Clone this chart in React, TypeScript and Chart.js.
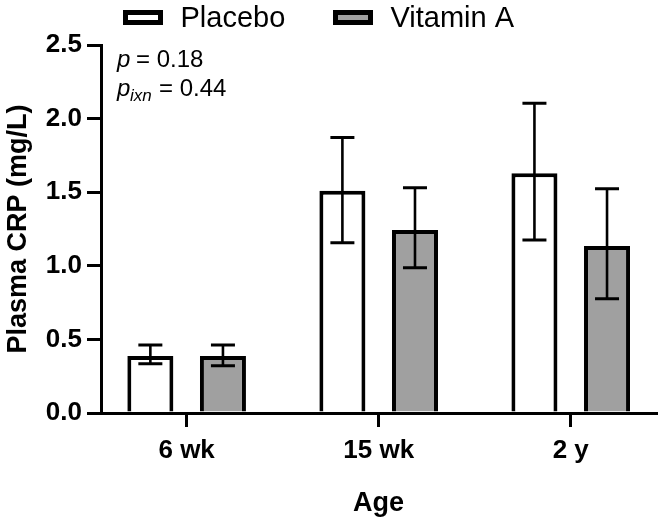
import React, { useEffect, useRef } from "react";
import { Chart, registerables } from "chart.js";

Chart.register(...registerables);

const categories = ["6 wk", "15 wk", "2 y"];
const placeboMean = [0.387, 1.51, 1.628];
const placeboUpper = [0.462, 1.872, 2.104];
const placeboLower = [0.335, 1.157, 1.175];
const vitaminAMean = [0.387, 1.243, 1.134];
const vitaminAUpper = [0.462, 1.53, 1.524];
const vitaminALower = [0.321, 0.987, 0.776];
const yTicks = [0, 0.5, 1.0, 1.5, 2.0, 2.5];
const seriesLabels = ["Placebo", "Vitamin A"];
const pMain = "0.18";
const pIxn = "0.44";

const FONT = '"Liberation Sans", Arial, Helvetica, sans-serif';

const errorBarPlugin = {
  id: "errorBars",
  afterDatasetsDraw(chart: any) {
    const ctx = chart.ctx;
    const yScale = chart.scales.y;
    ctx.save();
    ctx.strokeStyle = "#000";
    chart.data.datasets.forEach((ds: any, di: number) => {
      const meta = chart.getDatasetMeta(di);
      meta.data.forEach((bar: any, i: number) => {
        const x = bar.x;
        const yU = yScale.getPixelForValue(ds.errUpper[i]);
        const yL = yScale.getPixelForValue(ds.errLower[i]);
        ctx.lineWidth = 2.6;
        ctx.beginPath();
        ctx.moveTo(x, yU);
        ctx.lineTo(x, yL);
        ctx.stroke();
        ctx.lineWidth = 3;
        ctx.beginPath();
        ctx.moveTo(x - 12, yU);
        ctx.lineTo(x + 12, yU);
        ctx.moveTo(x - 12, yL);
        ctx.lineTo(x + 12, yL);
        ctx.stroke();
      });
    });
    ctx.restore();
  },
};

const legendPlugin = {
  id: "customLegend",
  afterDraw(chart: any) {
    const ctx = chart.ctx;
    const itemX = [125.5, 335.5];
    ctx.save();
    ctx.font = `29px ${FONT}`;
    ctx.textBaseline = "alphabetic";
    ctx.textAlign = "left";
    chart.data.datasets.forEach((ds: any, di: number) => {
      const x = itemX[di];
      ctx.fillStyle = ds.backgroundColor;
      ctx.fillRect(x, 12.5, 35, 10);
      ctx.strokeStyle = "#000";
      ctx.lineWidth = 5;
      ctx.strokeRect(x, 12.5, 35, 10);
      ctx.fillStyle = "#000";
      ctx.fillText(ds.label, x + 55, 27);
    });
    ctx.restore();
  },
};

const annotationPlugin = {
  id: "pValues",
  afterDraw(chart: any) {
    const ctx = chart.ctx;
    ctx.save();
    ctx.fillStyle = "#000";
    ctx.textBaseline = "alphabetic";
    ctx.textAlign = "left";
    ctx.font = `italic 24px ${FONT}`;
    ctx.fillText("p", 117, 67);
    ctx.font = `24px ${FONT}`;
    ctx.fillText(`= ${pMain}`, 136, 67);
    ctx.font = `italic 24px ${FONT}`;
    ctx.fillText("p", 117, 96);
    ctx.font = `italic 17px ${FONT}`;
    ctx.fillText("ixn", 130, 101);
    ctx.font = `24px ${FONT}`;
    ctx.fillText(`= ${pIxn}`, 159, 96);
    ctx.restore();
  },
};

export default function App() {
  const canvasRef = useRef<HTMLCanvasElement | null>(null);

  useEffect(() => {
    if (!canvasRef.current) return;
    const chart = new Chart(canvasRef.current, {
      type: "bar",
      data: {
        datasets: [
          {
            label: seriesLabels[0],
            data: placeboMean.map((v, i) => ({ x: i, y: v })),
            backgroundColor: "#ffffff",
            borderColor: "#000000",
            borderWidth: 4,
            categoryPercentage: 0.756,
            barPercentage: 0.634,
            errUpper: placeboUpper,
            errLower: placeboLower,
          } as any,
          {
            label: seriesLabels[1],
            data: vitaminAMean.map((v, i) => ({ x: i, y: v })),
            backgroundColor: "#a0a0a0",
            borderColor: "#000000",
            borderWidth: 4,
            categoryPercentage: 0.756,
            barPercentage: 0.634,
            errUpper: vitaminAUpper,
            errLower: vitaminALower,
          } as any,
        ],
      },
      options: {
        animation: false,
        responsive: false,
        maintainAspectRatio: false,
        layout: { padding: { top: 45, right: 7, left: 0, bottom: 0 } },
        plugins: {
          legend: { display: false },
          tooltip: { enabled: false },
        },
        scales: {
          x: {
            type: "linear",
            offset: false,
            min: -0.446,
            max: 2.444,
            afterBuildTicks: (s: any) => {
              s.ticks = categories.map((_, i) => ({ value: i }));
            },
            afterFit: (s: any) => {
              s.height = 113;
            },
            ticks: {
              callback: (v: any) => categories[Number(v)] ?? "",
              font: { family: FONT, size: 26, weight: "bold" },
              color: "#000",
              padding: 8,
              maxRotation: 0,
              autoSkip: false,
            },
            grid: {
              display: true,
              offset: false,
              drawOnChartArea: false,
              drawTicks: true,
              tickLength: 14,
              lineWidth: 3,
              color: "#000",
            },
            border: { display: true, width: 3, color: "#000" },
            title: {
              display: true,
              text: "Age",
              font: { family: FONT, size: 27, weight: "bold" },
              color: "#000",
              padding: { top: 0, bottom: 6 },
            },
          },
          y: {
            type: "linear",
            min: 0,
            max: 2.5,
            afterBuildTicks: (s: any) => {
              s.ticks = yTicks.map((v) => ({ value: v }));
            },
            afterFit: (s: any) => {
              s.width = 101;
            },
            ticks: {
              callback: (v: any) => Number(v).toFixed(1),
              font: { family: FONT, size: 26, weight: "bold" },
              color: "#000",
              padding: 5,
            },
            grid: {
              display: true,
              drawOnChartArea: false,
              drawTicks: true,
              tickLength: 14,
              lineWidth: 3,
              color: "#000",
            },
            border: { display: true, width: 3, color: "#000" },
            title: {
              display: true,
              text: "Plasma CRP (mg/L)",
              font: { family: FONT, size: 27, weight: "bold" },
              color: "#000",
              padding: { top: 2, bottom: 0 },
            },
          },
        },
      } as any,
      plugins: [errorBarPlugin, legendPlugin, annotationPlugin],
    });
    return () => chart.destroy();
  }, []);

  return (
    <div style={{ position: "absolute", left: 0, top: 0, width: 663, height: 526, background: "#fff" }}>
      <canvas ref={canvasRef} width={663} height={526} style={{ display: "block" }} />
    </div>
  );
}
